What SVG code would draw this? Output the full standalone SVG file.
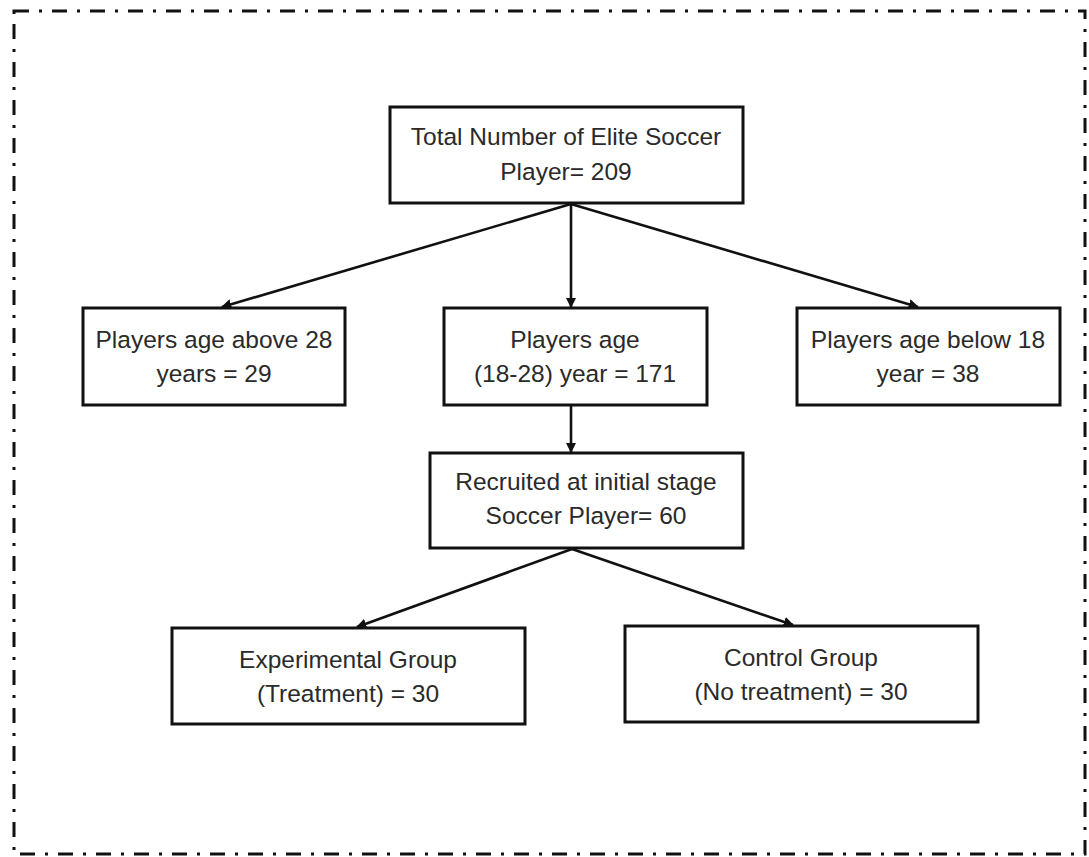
<svg xmlns="http://www.w3.org/2000/svg" width="1089" height="857" viewBox="0 0 1089 857">
<style>
.box{fill:#fff;stroke:#111;stroke-width:3}
.t{font-family:"Liberation Sans",Arial,sans-serif;font-size:24.5px;fill:#2a2a2a;text-anchor:middle}
.c{stroke:#111;stroke-width:2.6;fill:none;marker-end:url(#ah)}
.frame{fill:none;stroke:#111;stroke-width:3;stroke-dasharray:15 10 3 10}
</style>
<defs>
<marker id="ah" viewBox="0 0 10 10" refX="9" refY="5" markerWidth="4" markerHeight="4" orient="auto" markerUnits="strokeWidth">
<path d="M0,0 L10,5 L0,10 z" fill="#111"/>
</marker>
</defs>
<rect width="1089" height="857" fill="#fff"/>
<rect class="frame" x="14" y="11" width="1071" height="843"/>
<g id="connectors">
<line class="c" x1="571" y1="204" x2="222" y2="307"/>
<line class="c" x1="571" y1="204" x2="571" y2="307"/>
<line class="c" x1="571" y1="204" x2="918" y2="307"/>
<line class="c" x1="571" y1="406" x2="571" y2="452"/>
<line class="c" x1="572" y1="549" x2="357" y2="627"/>
<line class="c" x1="572" y1="549" x2="793" y2="625"/>
</g>
<g id="n-total">
<rect class="box" x="390" y="107" width="353" height="96"/>
<text class="t" x="566" y="145">Total Number of Elite Soccer</text>
<text class="t" x="566" y="180">Player= 209</text>
</g>
<g id="n-above28">
<rect class="box" x="83" y="308" width="262" height="97"/>
<text class="t" x="214" y="348">Players age above 28</text>
<text class="t" x="214" y="382">years = 29</text>
</g>
<g id="n-18-28">
<rect class="box" x="444" y="308" width="263" height="97"/>
<text class="t" x="575" y="348">Players age</text>
<text class="t" x="575" y="382">(18-28) year = 171</text>
</g>
<g id="n-below18">
<rect class="box" x="797" y="308" width="263" height="97"/>
<text class="t" x="928" y="348">Players age below 18</text>
<text class="t" x="928" y="382">year = 38</text>
</g>
<g id="n-recruited">
<rect class="box" x="430" y="453" width="313" height="95"/>
<text class="t" x="586" y="490">Recruited at initial stage</text>
<text class="t" x="586" y="524">Soccer Player= 60</text>
</g>
<g id="n-experimental">
<rect class="box" x="172" y="628" width="353" height="96"/>
<text class="t" x="348" y="668">Experimental Group</text>
<text class="t" x="348" y="702">(Treatment) = 30</text>
</g>
<g id="n-control">
<rect class="box" x="625" y="626" width="353" height="96"/>
<text class="t" x="801" y="666">Control Group</text>
<text class="t" x="801" y="700">(No treatment) = 30</text>
</g>
</svg>
